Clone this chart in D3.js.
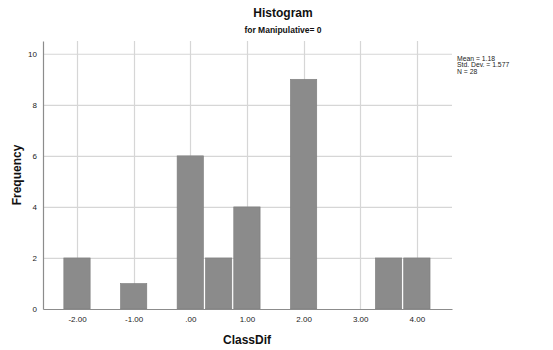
<!DOCTYPE html>
<html>
<head>
<meta charset="utf-8">
<script src="https://cdn.jsdelivr.net/npm/d3@7"></script>
<style>
  html, body { margin: 0; padding: 0; background: #fff; }
  svg { display: block; font-family: Arial, "Liberation Sans", sans-serif; }
</style>
</head>
<body>
<svg id="chart" width="553" height="350"></svg>
<script>
// Histogram of ClassDif for Manipulative = 0 (bin width 0.5)
const binCenters = [-2.0, -1.0, 0.0, 0.5, 1.0, 2.0, 3.5, 4.0];
const counts     = [2, 1, 6, 2, 4, 9, 2, 2];
const binWidth = 0.5;
const xTicks = [-2, -1, 0, 1, 2, 3, 4];
const yTicks = [0, 2, 4, 6, 8, 10];
const statLines = ["Mean = 1.18", "Std. Dev. = 1.577", "N = 28"];

const svg = d3.select("#chart");
const x = d3.scaleLinear().domain([-2.6, 4.62]).range([43, 452]);
const y = d3.scaleLinear().domain([0, 10.5]).range([309, 41]);

const gridColor = "#d6d6d6";
const axisColor = "#8c8c8c";

// grid
svg.append("g").selectAll("line.h").data(yTicks.filter(d => d > 0)).join("line")
  .attr("x1", x.range()[0]).attr("x2", x.range()[1])
  .attr("y1", d => y(d) + 0.5).attr("y2", d => y(d) + 0.5)
  .attr("stroke", gridColor).attr("stroke-width", 1.2);
svg.append("g").selectAll("line.v").data(xTicks).join("line")
  .attr("x1", d => Math.round(x(d)) + 0.5).attr("x2", d => Math.round(x(d)) + 0.5)
  .attr("y1", y.range()[1]).attr("y2", y(0))
  .attr("stroke", gridColor).attr("stroke-width", 1.2);

// bars
svg.append("g").selectAll("rect").data(binCenters.map((c, i) => ({c, n: counts[i]}))).join("rect")
  .attr("x", d => x(d.c - binWidth / 2) + 1)
  .attr("width", d => x(d.c + binWidth / 2) - x(d.c - binWidth / 2) - 2)
  .attr("y", d => y(d.n))
  .attr("height", d => y(0) - y(d.n))
  .attr("fill", "#8b8b8b")
  .attr("stroke", "#7d7d7d").attr("stroke-width", 0.6);

// axes; tick labels use a plain hyphen and drop the leading zero of 0.00
const fmtX = d => d === 0 ? ".00" : d.toFixed(2);
const xAxis = svg.append("g").attr("transform", `translate(0,${y(0)})`)
  .call(d3.axisBottom(x).tickValues(xTicks).tickSize(0).tickPadding(7).tickFormat(fmtX));
const yAxis = svg.append("g").attr("transform", `translate(${x.range()[0]},0)`)
  .call(d3.axisLeft(y).tickValues(yTicks).tickSize(0).tickPadding(6).tickFormat(d => String(d)));
[xAxis, yAxis].forEach(g => {
  g.select(".domain").attr("stroke", axisColor).attr("stroke-width", 1.2);
  g.selectAll("text").attr("font-size", 8).attr("fill", "#222")
    .attr("font-family", "Arial, 'Liberation Sans', sans-serif");
});

// titles
svg.append("text").attr("x", 283).attr("y", 17).attr("text-anchor", "middle")
  .attr("font-size", 12).attr("font-weight", "bold").attr("fill", "#111").text("Histogram");
svg.append("text").attr("x", 283).attr("y", 33).attr("text-anchor", "middle")
  .attr("font-size", 8.5).attr("font-weight", "bold").attr("fill", "#111").text("for Manipulative= 0");
svg.append("text").attr("x", 247).attr("y", 344).attr("text-anchor", "middle")
  .attr("font-size", 12).attr("font-weight", "bold").attr("fill", "#111").text("ClassDif");
svg.append("text").attr("transform", "translate(21,175) rotate(-90)").attr("text-anchor", "middle")
  .attr("font-size", 12).attr("font-weight", "bold").attr("fill", "#111").text("Frequency");

// summary statistics
svg.append("g").selectAll("text").data(statLines).join("text")
  .attr("x", 457).attr("y", (d, i) => 61 + i * 6.3)
  .attr("font-size", 6.8).attr("fill", "#222").text(d => d);
</script>
</body>
</html>
